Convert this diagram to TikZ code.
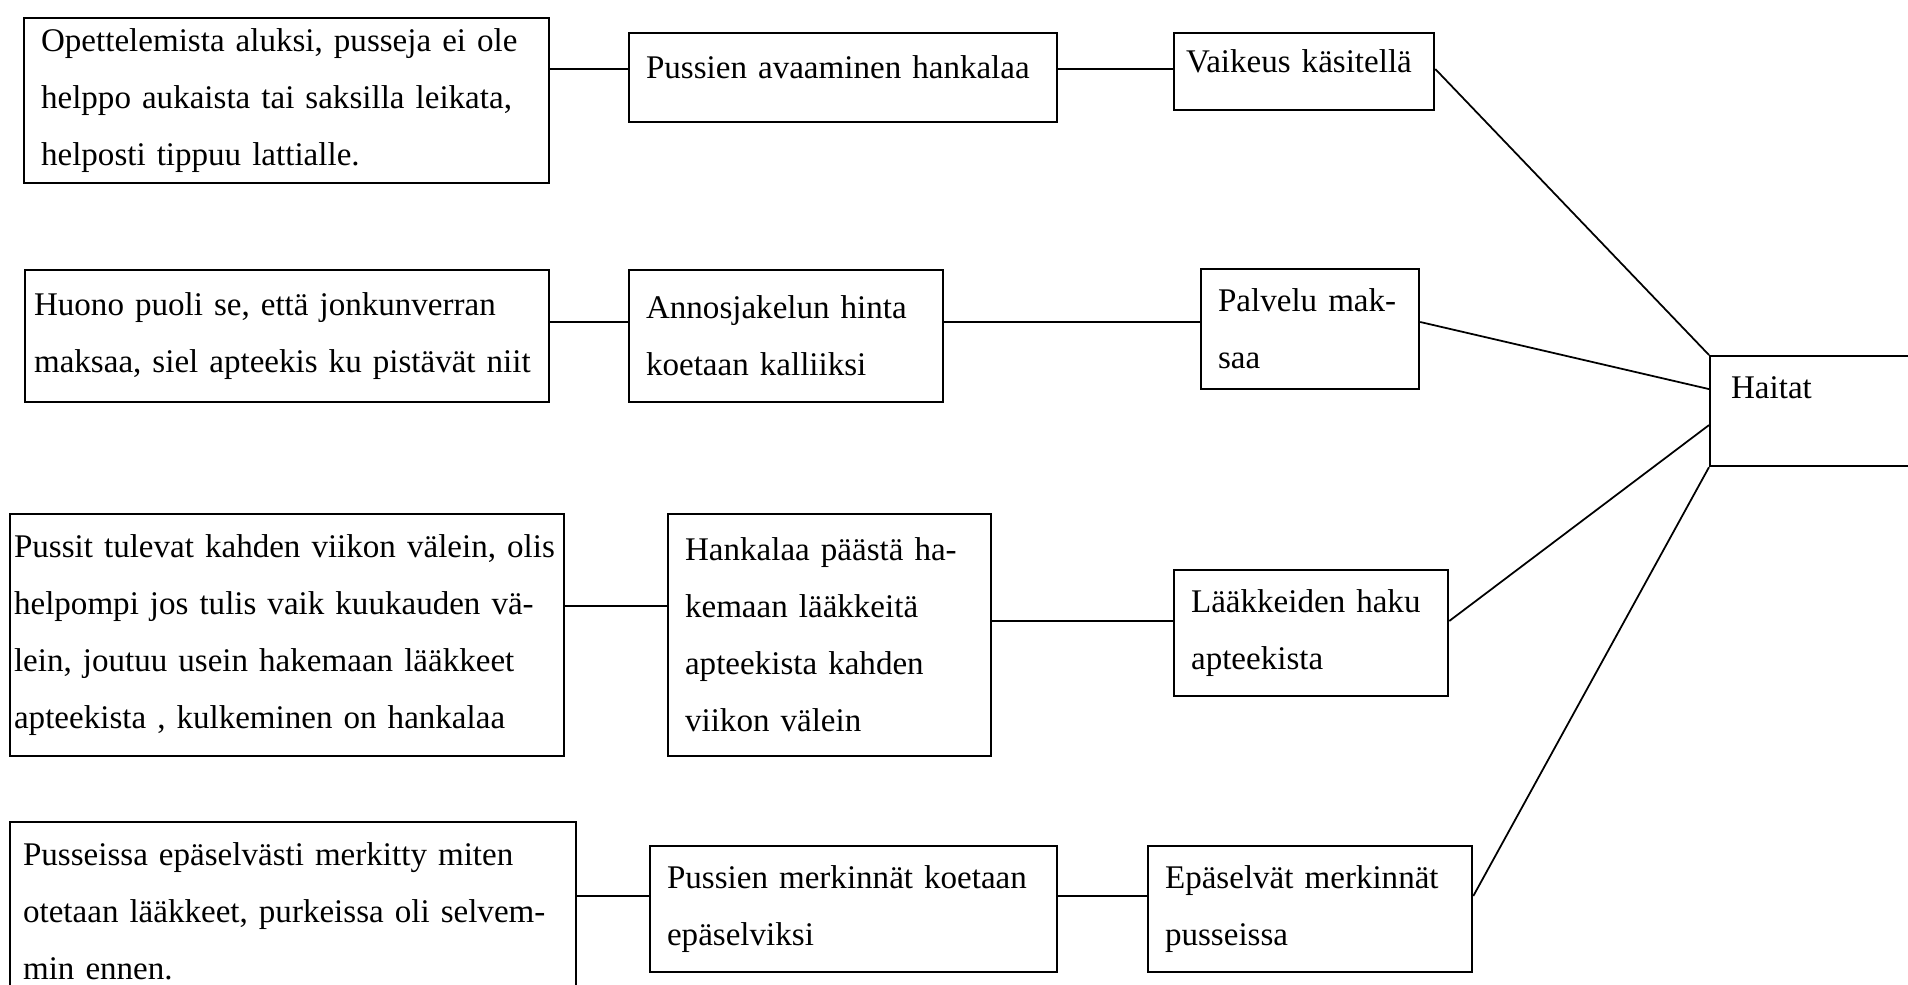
\documentclass[tikz,border=0pt]{standalone}
\usepackage{fontspec}
\setmainfont{Liberation Serif}

\tikzset{
  laatikko/.style={draw, line width=0.6pt, anchor=north west, inner xsep=0pt, inner ysep=0pt,
    align=left, font=\fontsize{9.4}{16.2}\selectfont},
  viiva/.style={line width=0.6pt},
  vino/.style={line width=0.5pt}
}

\begin{document}
\begin{tikzpicture}[x=0.01cm, y=-0.01cm]
\useasboundingbox (0,0) rectangle (1908,984);
\clip (0,0) rectangle (1908,984);

% vasen sarake
\node[laatikko, minimum width=5.25cm, minimum height=1.65cm, text width=4.91cm] (a1) at (23,17)
  {Opettelemista aluksi, pusseja ei ole\\helppo aukaista tai saksilla leikata,\\helposti tippuu lattialle.};
\node[laatikko, minimum width=5.24cm, minimum height=1.32cm, text width=5.06cm] (a2) at (24,269)
  {Huono puoli se, että jonkunverran\\maksaa, siel apteekis ku pistävät niit};
\node[laatikko, minimum width=5.54cm, minimum height=2.42cm, text width=5.46cm] (a3) at (9,513)
  {Pussit tulevat kahden viikon välein, olis\\helpompi jos tulis vaik kuukauden vä-\\lein, joutuu usein hakemaan lääkkeet\\apteekista , kulkeminen on hankalaa};
\node[laatikko, minimum width=5.66cm, minimum height=1.78cm, text width=5.40cm] (a4) at (9,821)
  {Pusseissa epäselvästi merkitty miten\\otetaan lääkkeet, purkeissa oli selvem-\\min ennen.};

% keskimmäinen sarake
\node[laatikko, minimum width=4.28cm, minimum height=0.89cm, text width=3.94cm,
  text height=0.45cm, text depth=0.44cm] (b1) at (628,32) {Pussien avaaminen hankalaa};
\node[laatikko, minimum width=3.14cm, minimum height=1.32cm, text width=2.80cm] (b2) at (628,269)
  {Annosjakelun hinta\\koetaan kalliiksi};
\node[laatikko, minimum width=3.23cm, minimum height=2.42cm, text width=2.89cm] (b3) at (667,513)
  {Hankalaa päästä ha-\\kemaan lääkkeitä\\apteekista kahden\\viikon välein};
\node[laatikko, minimum width=4.07cm, minimum height=1.26cm, text width=3.73cm] (b4) at (649,845)
  {Pussien merkinnät koetaan\\epäselviksi};

% oikea sarake
\node[laatikko, minimum width=2.60cm, minimum height=0.77cm, text width=2.36cm,
  text height=0.39cm, text depth=0.38cm] (c1) at (1173,32) {Vaikeus käsitellä};
\node[laatikko, minimum width=2.18cm, minimum height=1.20cm, text width=1.84cm] (c2) at (1200,268)
  {Palvelu mak-\\saa};
\node[laatikko, minimum width=2.74cm, minimum height=1.26cm, text width=2.40cm] (c3) at (1173,569)
  {Lääkkeiden haku\\apteekista};
\node[laatikko, minimum width=3.24cm, minimum height=1.26cm, text width=2.90cm] (c4) at (1147,845)
  {Epäselvät merkinnät\\pusseissa};

\node[laatikko, minimum width=2.91cm, minimum height=1.10cm, text width=2.49cm,
  text height=0.42cm, text depth=0.68cm] (haitat) at (1709,355) {Haitat};

% rivien tasot
\coordinate (t1) at (0,69);
\coordinate (t2) at (0,322);
\coordinate (t3) at (0,606);
\coordinate (t3b) at (0,621);
\coordinate (t4) at (0,896);

\draw[viiva] (a1.east |- t1) -- (b1.west |- t1);
\draw[viiva] (b1.east |- t1) -- (c1.west |- t1);
\draw[viiva] (a2.east |- t2) -- (b2.west |- t2);
\draw[viiva] (b2.east |- t2) -- (c2.west |- t2);
\draw[viiva] (a3.east |- t3) -- (b3.west |- t3);
\draw[viiva] (b3.east |- t3b) -- (c3.west |- t3b);
\draw[viiva] (a4.east |- t4) -- (b4.west |- t4);
\draw[viiva] (b4.east |- t4) -- (c4.west |- t4);

\draw[vino] (c1.east |- t1) -- (haitat.north west);
\draw[vino] (c2.east |- t2) -- ([yshift=0.22cm]haitat.west);
\draw[vino] (c3.east |- t3b) -- ([yshift=-0.14cm]haitat.west);
\draw[vino] (c4.east |- t4) -- (haitat.south west);
\end{tikzpicture}
\end{document}
